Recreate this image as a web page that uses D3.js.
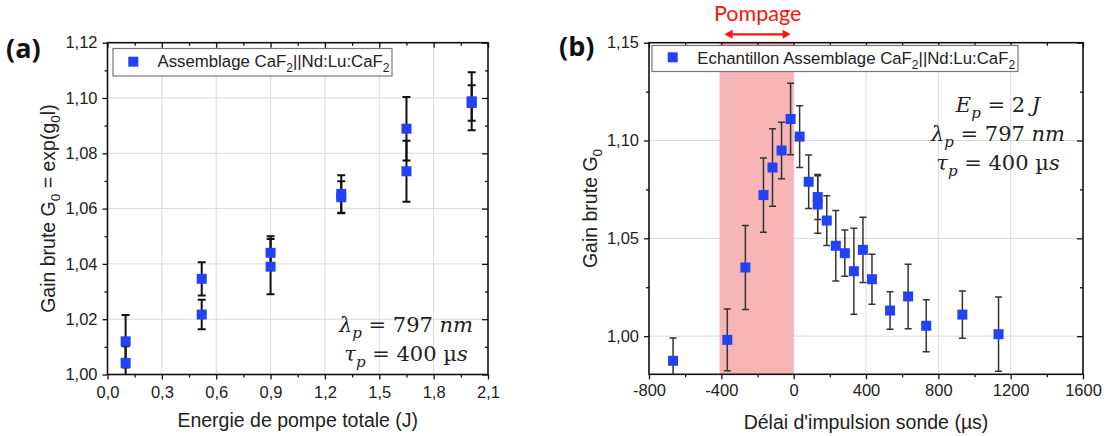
<!DOCTYPE html>
<html><head><meta charset="utf-8">
<script src="https://cdn.jsdelivr.net/npm/d3@7"></script>
<style>
html,body{margin:0;padding:0;background:#fff;}
svg{display:block;}
</style></head>
<body>
<svg id="chart" width="1107" height="436"></svg>
<script>
// ---------- DATA ----------
// Panel (a): gain vs total pump energy
const aEnergy = [0.1, 0.1, 0.52, 0.52, 0.9, 0.9, 1.29, 1.29, 1.65, 1.65, 2.01, 2.01];
const aGain   = [1.012, 1.0042, 1.0346, 1.0217, 1.044, 1.039, 1.0653, 1.0641, 1.0889, 1.0735, 1.0988, 1.0982];
const aErr    = [0.0095, 0.006, 0.006, 0.0053, 0.006, 0.010, 0.0068, 0.0058, 0.0115, 0.011, 0.0105, 0.0064];
const aXTicks = [0, 0.3, 0.6, 0.9, 1.2, 1.5, 1.8, 2.1];
const aYTicks = [1.00, 1.02, 1.04, 1.06, 1.08, 1.10, 1.12];

// Panel (b): gain vs probe delay
const bDelay = [-667, -367, -267, -167, -117, -67, -17, 33, 83, 133, 133, 183, 233, 283, 333, 383, 433, 533, 633, 733, 933, 1133];
const bGain  = [0.9874, 0.9981, 1.0351, 1.0721, 1.0862, 1.0949, 1.111, 1.102, 1.0789, 1.0711, 1.0673, 1.0591, 1.0462, 1.0424, 1.0332, 1.0441, 1.0291, 1.0131, 1.0203, 1.0053, 1.011, 1.001];
const bErr   = [0.0116, 0.0158, 0.0215, 0.019, 0.0198, 0.0145, 0.0183, 0.0158, 0.0137, 0.0115, 0.0147, 0.0127, 0.018, 0.0118, 0.022, 0.0167, 0.0128, 0.0096, 0.0165, 0.0133, 0.0121, 0.019];
const bXTicks = [-800, -400, 0, 400, 800, 1200, 1600];
const bYTicks = [1.00, 1.05, 1.10, 1.15];
const pumpWindow = [-410, 0];

// ---------- STYLE ----------
const SANS = "'Liberation Sans', Arial, sans-serif";
const SERIF = "'DejaVu Serif', serif";
const BLUE = "#2342f5";
const comma = (f) => (v) => f(v).replace(".", ",");

const svg = d3.select("#chart");

function panel(opts) {
  const {left, right, top, bottom, xDomain, yDomain, xTicks, yTicks, xMinor, yMinor, xFmt, yFmt, xPad} = opts;
  const x = d3.scaleLinear().domain(xDomain).range([left, right]);
  const y = d3.scaleLinear().domain(yDomain).range([bottom, top]);
  const g = svg.append("g");

  // grid
  g.append("g").selectAll("line").data(xTicks.filter(t => t > xDomain[0] && t < xDomain[1])).join("line")
    .attr("x1", d => x(d)).attr("x2", d => x(d)).attr("y1", top).attr("y2", bottom)
    .attr("stroke", "#dadada").attr("stroke-width", 1);
  g.append("g").selectAll("line").data(yTicks.filter(t => t > yDomain[0] + 1e-9 && t < yDomain[1] - 1e-9)).join("line")
    .attr("x1", left).attr("x2", right).attr("y1", d => y(d)).attr("y2", d => y(d))
    .attr("stroke", "#dadada").attr("stroke-width", 1);

  const layer = g.append("g");

  // axes
  const styleAxis = (sel) => {
    sel.select(".domain").remove();
    sel.selectAll("line").attr("stroke", "#111").attr("stroke-width", 1.3);
    sel.selectAll("text").attr("font-family", SANS).attr("font-size", 16.5).attr("fill", "#222");
  };
  g.append("g").attr("transform", `translate(0,${bottom})`)
    .call(d3.axisBottom(x).tickValues(xTicks).tickFormat(xFmt).tickSize(5).tickPadding(xPad).tickSizeOuter(0)).call(styleAxis);
  g.append("g").attr("transform", `translate(0,${bottom})`)
    .call(d3.axisBottom(x).tickValues(xMinor).tickFormat("").tickSize(3).tickSizeOuter(0)).call(styleAxis);
  g.append("g").attr("transform", `translate(${left},0)`)
    .call(d3.axisLeft(y).tickValues(yTicks).tickFormat(yFmt).tickSize(5).tickPadding(5).tickSizeOuter(0)).call(styleAxis);
  g.append("g").attr("transform", `translate(${left},0)`)
    .call(d3.axisLeft(y).tickValues(yMinor).tickFormat("").tickSize(3).tickSizeOuter(0)).call(styleAxis);
  // mirrored inward ticks
  g.append("g").attr("transform", `translate(${right},0)`)
    .call(d3.axisRight(y).tickValues(yTicks).tickFormat("").tickSize(-6).tickSizeOuter(0)).call(styleAxis);
  g.append("g").attr("transform", `translate(${right},0)`)
    .call(d3.axisRight(y).tickValues(yMinor).tickFormat("").tickSize(-3).tickSizeOuter(0)).call(styleAxis);
  g.append("g").attr("transform", `translate(0,${top})`)
    .call(d3.axisTop(x).tickValues(xTicks).tickFormat("").tickSize(-5).tickSizeOuter(0)).call(styleAxis);
  g.append("g").attr("transform", `translate(0,${top})`)
    .call(d3.axisTop(x).tickValues(xMinor).tickFormat("").tickSize(-3).tickSizeOuter(0)).call(styleAxis);

  // frame
  g.append("rect").attr("x", left).attr("y", top).attr("width", right - left).attr("height", bottom - top)
    .attr("fill", "none").attr("stroke", "#111").attr("stroke-width", 1.6);

  const clipId = "clip" + Math.round(left);
  svg.append("clipPath").attr("id", clipId).append("rect")
    .attr("x", left).attr("y", top).attr("width", right - left).attr("height", bottom - top);
  const data = g.append("g").attr("clip-path", `url(#${clipId})`);
  return {x, y, g, layer, data};
}

function errorBars(p, xs, ys, es, color, sw, cap) {
  const d = xs.map((v, i) => ({x: v, y: ys[i], e: es[i]}));
  const eb = p.data.append("g").attr("stroke", color).attr("stroke-width", sw).attr("fill", "none");
  eb.selectAll(".v").data(d).join("line")
    .attr("x1", k => p.x(k.x)).attr("x2", k => p.x(k.x))
    .attr("y1", k => p.y(k.y - k.e)).attr("y2", k => p.y(k.y + k.e));
  eb.selectAll(".t").data(d).join("line")
    .attr("x1", k => p.x(k.x) - cap / 2).attr("x2", k => p.x(k.x) + cap / 2)
    .attr("y1", k => p.y(k.y + k.e)).attr("y2", k => p.y(k.y + k.e));
  eb.selectAll(".b").data(d).join("line")
    .attr("x1", k => p.x(k.x) - cap / 2).attr("x2", k => p.x(k.x) + cap / 2)
    .attr("y1", k => p.y(k.y - k.e)).attr("y2", k => p.y(k.y - k.e));
  const s = 10;
  p.data.append("g").selectAll("rect").data(d).join("rect")
    .attr("x", k => p.x(k.x) - s / 2).attr("y", k => p.y(k.y) - s / 2)
    .attr("width", s).attr("height", s).attr("fill", BLUE);
}

function legend(x0, y0, w, h, label, textX, baseY, mx, my) {
  const g = svg.append("g");
  g.append("rect").attr("x", x0).attr("y", y0).attr("width", w).attr("height", h)
    .attr("fill", "#fff").attr("stroke", "#777").attr("stroke-width", 1.2);
  g.append("rect").attr("x", mx - 5).attr("y", my - 5).attr("width", 10).attr("height", 10).attr("fill", BLUE);
  const t = g.append("text").attr("x", textX).attr("y", baseY)
    .attr("font-family", SANS).attr("font-size", 16.8).attr("fill", "#222");
  t.append("tspan").text(label + " CaF");
  t.append("tspan").attr("dy", 5).attr("font-size", 12).text("2");
  t.append("tspan").attr("dy", -5).text("||Nd:Lu:CaF");
  t.append("tspan").attr("dy", 5).attr("font-size", 12).text("2");
}

function mathLine(x, y, sym, rhs, unitItalic, unit) {
  const t = svg.append("text").attr("x", x).attr("y", y).attr("text-anchor", "middle")
    .attr("font-family", SERIF).attr("font-size", 21).attr("fill", "#222");
  t.append("tspan").attr("font-style", "italic").text(sym);
  t.append("tspan").attr("font-style", "italic").attr("font-size", 15).attr("dy", 6).text("p");
  t.append("tspan").attr("dy", -6).text(" = " + rhs + " ");
  t.append("tspan").attr("font-style", unitItalic ? "italic" : "normal").text(unit);
  return t;
}

// ---------- PANEL (a) ----------
const pa = panel({
  left: 107.5, right: 488, top: 42.7, bottom: 374.5,
  xDomain: [0, 2.1], yDomain: [1.0, 1.12],
  xTicks: aXTicks, yTicks: aYTicks,
  xMinor: [0.15, 0.45, 0.75, 1.05, 1.35, 1.65, 1.95],
  yMinor: [1.01, 1.03, 1.05, 1.07, 1.09, 1.11],
  xFmt: comma(d3.format(".1f")), yFmt: comma(d3.format(".2f")), xPad: 7
});
errorBars(pa, aEnergy, aGain, aErr, "#111", 2, 8);
legend(113, 48.5, 279, 27.5, "Assemblage", 157.5, 67, 133.3, 61.7);
mathLine(406, 332, "λ", "797", true, "nm");
const la2 = svg.append("text").attr("x", 406).attr("y", 360.5).attr("text-anchor", "middle")
  .attr("font-family", SERIF).attr("font-size", 21).attr("fill", "#222");
la2.append("tspan").attr("font-style", "italic").text("τ");
la2.append("tspan").attr("font-style", "italic").attr("font-size", 15).attr("dy", 6).text("p");
la2.append("tspan").attr("dy", -6).text(" = 400 µ");
la2.append("tspan").attr("font-style", "italic").text("s");

svg.append("text").attr("x", (107.5 + 488) / 2).attr("y", 427).attr("text-anchor", "middle")
  .attr("font-family", SANS).attr("font-size", 19.5).attr("fill", "#222").text("Energie de pompe totale (J)");
const yta = svg.append("text").attr("transform", `translate(55,${(42.7 + 374.5) / 2}) rotate(-90)`)
  .attr("text-anchor", "middle").attr("font-family", SANS).attr("font-size", 19.5).attr("fill", "#222");
yta.append("tspan").text("Gain brute G");
yta.append("tspan").attr("dy", 5).attr("font-size", 13.5).text("0");
yta.append("tspan").attr("dy", -5).text(" = exp(g");
yta.append("tspan").attr("dy", 5).attr("font-size", 13.5).text("0");
yta.append("tspan").attr("dy", -5).text("l)");
svg.append("text").attr("x", 6).attr("y", 58).attr("font-family", "'Open Sans', sans-serif")
  .attr("font-weight", "bold").attr("font-size", 27).attr("fill", "#111").text("(a)");

// ---------- PANEL (b) ----------
const pb = panel({
  left: 649, right: 1083, top: 42.7, bottom: 374.3,
  xDomain: [-800, 1600], yDomain: [0.9805, 1.15],
  xTicks: bXTicks, yTicks: bYTicks,
  xMinor: [-600, -200, 200, 600, 1000, 1400],
  yMinor: [1.025, 1.075, 1.125],
  xFmt: (v) => String(v), yFmt: comma(d3.format(".2f")), xPad: 5
});
pb.layer.append("rect")
  .attr("x", pb.x(pumpWindow[0])).attr("y", 42.7)
  .attr("width", pb.x(pumpWindow[1]) - pb.x(pumpWindow[0])).attr("height", 374.3 - 42.7)
  .attr("fill", "#f8b5b5");
errorBars(pb, bDelay, bGain, bErr, "#333", 1.5, 7);
legend(652, 45.5, 366, 26, "Echantillon Assemblage", 697.3, 63.5, 672.7, 57.3);

const eb1 = svg.append("text").attr("x", 998).attr("y", 112).attr("text-anchor", "middle")
  .attr("font-family", SERIF).attr("font-size", 21).attr("fill", "#222");
eb1.append("tspan").attr("font-style", "italic").text("E");
eb1.append("tspan").attr("font-style", "italic").attr("font-size", 15).attr("dy", 6).text("p");
eb1.append("tspan").attr("dy", -6).text(" = 2 ");
eb1.append("tspan").attr("font-style", "italic").text("J");
mathLine(998, 141, "λ", "797", true, "nm");
const eb3 = svg.append("text").attr("x", 998).attr("y", 170).attr("text-anchor", "middle")
  .attr("font-family", SERIF).attr("font-size", 21).attr("fill", "#222");
eb3.append("tspan").attr("font-style", "italic").text("τ");
eb3.append("tspan").attr("font-style", "italic").attr("font-size", 15).attr("dy", 6).text("p");
eb3.append("tspan").attr("dy", -6).text(" = 400 µ");
eb3.append("tspan").attr("font-style", "italic").text("s");

svg.append("text").attr("x", (649 + 1083) / 2).attr("y", 429).attr("text-anchor", "middle")
  .attr("font-family", SANS).attr("font-size", 19.5).attr("fill", "#222").text("Délai d'impulsion sonde (µs)");
const ytb = svg.append("text").attr("transform", `translate(597,${(42.7 + 374.3) / 2}) rotate(-90)`)
  .attr("text-anchor", "middle").attr("font-family", SANS).attr("font-size", 19.5).attr("fill", "#222");
ytb.append("tspan").text("Gain brute G");
ytb.append("tspan").attr("dy", 5).attr("font-size", 13.5).text("0");
svg.append("text").attr("x", 559).attr("y", 56).attr("font-family", "'Open Sans', sans-serif")
  .attr("font-weight", "bold").attr("font-size", 27).attr("fill", "#111").text("(b)");

// Pompage annotation
const ax0 = pb.x(pumpWindow[0]) + 5, ax1 = pb.x(pumpWindow[1]) - 3, ay = 34.3;
svg.append("text").attr("x", (ax0 + ax1) / 2).attr("y", 21).attr("text-anchor", "middle")
  .attr("font-family", "Lato, sans-serif").attr("font-size", 21.5).attr("fill", "#ff1010").text("Pompage");
svg.append("line").attr("x1", ax0 + 5).attr("x2", ax1 - 5).attr("y1", ay).attr("y2", ay)
  .attr("stroke", "#ff1010").attr("stroke-width", 2.2);
svg.append("path").attr("d", `M${ax0},${ay} l8,-4.5 l0,9 Z M${ax1},${ay} l-8,-4.5 l0,9 Z`).attr("fill", "#ff1010");
</script>
</body></html>
